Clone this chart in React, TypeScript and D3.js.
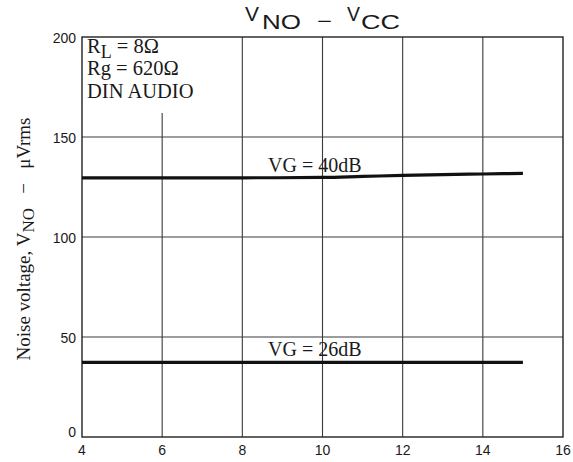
import React from "react";
import * as d3 from "d3";

const xTicks = [4, 6, 8, 10, 12, 14, 16];
const yTicks = [0, 50, 100, 150, 200];
const vcc40 = [4, 6, 8, 10, 11, 12, 13, 14, 15];
const vno40 = [129.6, 129.6, 129.6, 129.8, 130.3, 130.8, 131.2, 131.5, 131.8];
const vcc26 = [4, 6, 8, 10, 12, 14, 15];
const vno26 = [37.3, 37.3, 37.3, 37.3, 37.3, 37.3, 37.3];

const W = 573, H = 462;
const L = 82, R = 563, T = 37, B = 437;

export default function App() {
  const x = d3.scaleLinear().domain([4, 16]).range([L, R]);
  const y = d3.scaleLinear().domain([0, 200]).range([B, T]);
  const line = d3.line<[number, number]>().x(d => x(d[0])).y(d => y(d[1])).curve(d3.curveMonotoneX);
  const d40 = line(vcc40.map((v, i) => [v, vno40[i]] as [number, number]))!;
  const d26 = line(vcc26.map((v, i) => [v, vno26[i]] as [number, number]))!;
  const serif = "'Liberation Serif', 'Times New Roman', serif";
  const sans = "'Liberation Sans', Arial, sans-serif";
  const ink = "#1a1a1a";
  return (
    <svg width={W} height={H} style={{ position: "absolute", left: 0, top: 0, background: "#fff" }}>
      {xTicks.slice(1, -1).map(t => (
        <line key={"vx" + t} x1={x(t)} x2={x(t)} y1={t === 6 ? 113 : T} y2={B} stroke="#3a3a3a" strokeWidth={1.1} />
      ))}
      {yTicks.slice(1, -1).map(t => (
        <line key={"hy" + t} x1={L} x2={R} y1={y(t)} y2={y(t)} stroke="#3a3a3a" strokeWidth={1.1} />
      ))}
      <rect x={L} y={T} width={R - L} height={B - T} fill="none" stroke="#222" strokeWidth={1.4} />
      <path d={d40} fill="none" stroke="#111" strokeWidth={3.2} />
      <path d={d26} fill="none" stroke="#111" strokeWidth={3.2} />
      {xTicks.map(t => (
        <text key={"xt" + t} x={x(t)} y={455} textAnchor="middle" fontFamily={sans} fontSize={14} fill={ink}>{t}</text>
      ))}
      {yTicks.map(t => (
        <text key={"yt" + t} x={76} y={Math.min(y(t) + 5.5, 437)} textAnchor="end" fontFamily={sans} fontSize={14} fill={ink}>{t}</text>
      ))}
      <g fontFamily={sans} fill={ink}>
        <text x={245} y={21} fontSize={20} textLength={14} lengthAdjust="spacingAndGlyphs">V</text>
        <text x={262} y={29} fontSize={20} textLength={39} lengthAdjust="spacingAndGlyphs">NO</text>
        <text x={317} y={28} fontSize={20} textLength={15} lengthAdjust="spacingAndGlyphs">−</text>
        <text x={347} y={21} fontSize={20} textLength={13} lengthAdjust="spacingAndGlyphs">V</text>
        <text x={361} y={29} fontSize={20} textLength={39} lengthAdjust="spacingAndGlyphs">CC</text>
      </g>
      <text transform={`translate(30,239) rotate(-90)`} textAnchor="middle" fontFamily={serif} fontSize={19} fill={ink}>
        <tspan>Noise voltage, V</tspan><tspan dy={4} fontSize={17}>NO</tspan><tspan dy={-4}>{"\u00a0\u00a0\u00a0−\u00a0\u00a0\u00a0μVrms"}</tspan>
      </text>
      <text x={87} y={53} fontFamily={serif} fontSize={20.5} fill={ink}>
        <tspan>R</tspan><tspan dy={5} fontSize={18}>L</tspan><tspan dy={-5}> = 8Ω</tspan>
      </text>
      <text x={87} y={75} fontFamily={serif} fontSize={20.5} fill={ink}>Rg = 620Ω</text>
      <text x={87} y={98} fontFamily={serif} fontSize={20.5} fill={ink}>DIN AUDIO</text>
      <text x={268} y={172} fontFamily={serif} fontSize={20} fill={ink}>VG = 40dB</text>
      <text x={268} y={356} fontFamily={serif} fontSize={20} fill={ink}>VG = 26dB</text>
    </svg>
  );
}
